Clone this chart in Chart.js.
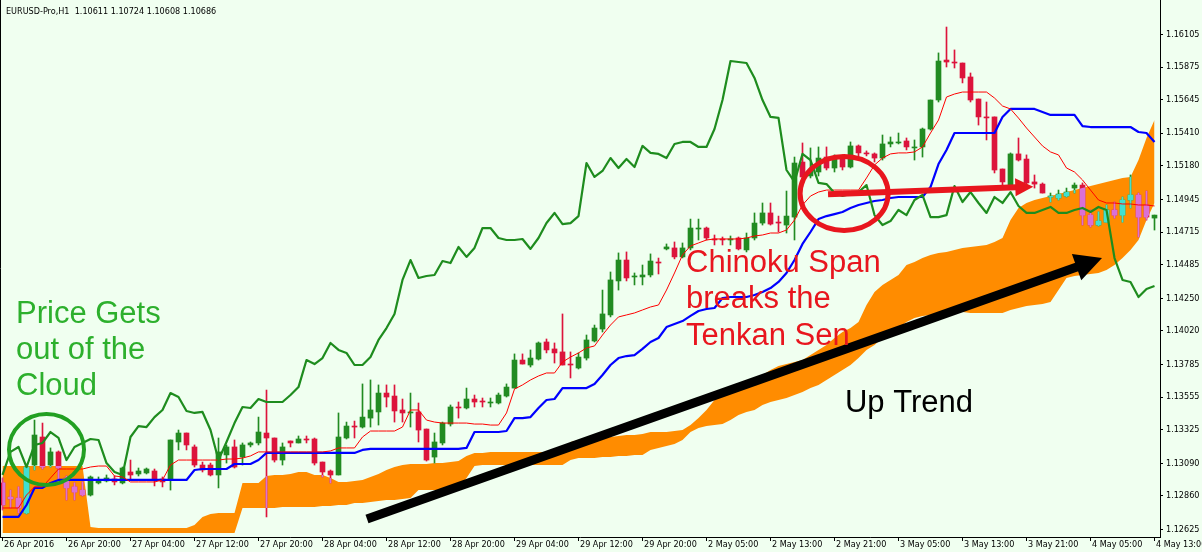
<!DOCTYPE html>
<html><head><meta charset="utf-8">
<script src="https://cdn.jsdelivr.net/npm/chart.js@4.4.1/dist/chart.umd.min.js"></script>
<style>html,body{margin:0;padding:0;background:#F0FFF0;overflow:hidden}canvas{display:block}</style>
</head><body>
<canvas id="c" width="1202" height="552" style="width:1202px;height:552px"></canvas>
<script>
const titleText = 'EURUSD-Pro,H1  1.10611 1.10724 1.10608 1.10686';
const xTickLabels = ['26 Apr 2016','26 Apr 20:00','27 Apr 04:00','27 Apr 12:00','27 Apr 20:00','28 Apr 04:00','28 Apr 12:00','28 Apr 20:00','29 Apr 04:00','29 Apr 12:00','29 Apr 20:00','2 May 05:00','2 May 13:00','2 May 21:00','3 May 05:00','3 May 13:00','3 May 21:00','4 May 05:00','4 May 13:00'];
const yTickValues = [1.16105,1.15875,1.15645,1.15410,1.15180,1.14945,1.14715,1.14485,1.14250,1.14020,1.13785,1.13555,1.13325,1.13090,1.12860,1.12625];

const opens = [1.12951,1.12852,1.12845,1.12740,1.13077,1.13274,1.13077,1.13169,1.12986,1.12923,
1.12901,1.12866,1.12951,1.12965,1.12979,1.12951,1.13028,1.13014,1.13021,1.13035,
1.12979,1.12972,1.13239,1.13302,1.13204,1.13077,1.13077,1.13007,1.13148,1.13204,
1.13133,1.13218,1.13232,1.13302,1.13267,1.13112,1.13246,1.13232,1.13260,1.13260,
1.13098,1.13035,1.13007,1.13267,1.13351,1.13344,1.13407,1.13450,1.13583,1.13562,
1.13464,1.13443,1.13450,1.13330,1.13133,1.13232,1.13365,1.13485,1.13478,1.13541,
1.13527,1.13513,1.13513,1.13562,1.13618,1.13815,1.13780,1.13822,1.13942,1.13893,
1.13872,1.13787,1.13759,1.13829,1.13949,1.14033,1.14132,1.14371,1.14518,1.14399,
1.14399,1.14413,1.14504,1.14596,1.14603,1.14540,1.14603,1.14736,1.14743,1.14666,
1.14666,1.14659,1.14673,1.14589,1.14673,1.14778,1.14849,1.14785,1.14764,1.14820,
1.15207,1.15109,1.15137,1.15242,1.15165,1.15228,1.15172,1.15320,1.15271,1.15264,
1.15235,1.15334,1.15341,1.15355,1.15306,1.15313,1.15439,1.15643,1.15924,1.15910,
1.15903,1.15805,1.15650,1.15524,1.15524,1.15158,1.15045,1.15264,1.15228,1.15067,
1.15052,1.14961,1.14954,1.14968,1.15024,1.15045,1.14834,1.14764,1.14785,1.14870,
1.14834,1.14940,1.14975,1.14905,1.14813];
const highs = [1.12986,1.12901,1.12923,1.13077,1.13393,1.13372,1.13197,1.13176,1.13000,1.12951,
1.12958,1.13000,1.12993,1.13007,1.13000,1.13063,1.13112,1.13056,1.13056,1.13049,
1.12993,1.13253,1.13323,1.13302,1.13218,1.13098,1.13091,1.13267,1.13218,1.13253,
1.13232,1.13239,1.13414,1.13604,1.13267,1.13232,1.13246,1.13281,1.13281,1.13267,
1.13098,1.13042,1.13443,1.13379,1.13386,1.13647,1.13675,1.13640,1.13640,1.13640,
1.13541,1.13583,1.13513,1.13330,1.13302,1.13379,1.13499,1.13520,1.13618,1.13569,
1.13548,1.13548,1.13583,1.13647,1.13858,1.13858,1.13886,1.13942,1.13963,1.13935,
1.14139,1.13872,1.13865,1.13991,1.14061,1.14307,1.14434,1.14568,1.14575,1.14427,
1.14483,1.14561,1.14532,1.14631,1.14645,1.14638,1.14806,1.14806,1.14750,1.14694,
1.14680,1.14687,1.14680,1.14708,1.14849,1.14919,1.14919,1.14827,1.15003,1.15242,
1.15341,1.15306,1.15313,1.15313,1.15257,1.15257,1.15348,1.15327,1.15285,1.15271,
1.15397,1.15383,1.15411,1.15376,1.15362,1.15446,1.15643,1.15974,1.16156,1.15995,
1.15903,1.15833,1.15650,1.15629,1.15524,1.15158,1.15271,1.15376,1.15257,1.15116,
1.15060,1.14989,1.15010,1.15024,1.15060,1.15060,1.14870,1.14856,1.14905,1.14926,
1.14961,1.15116,1.14989,1.15003,1.14834];
const lows = [1.12761,1.12775,1.12740,1.12733,1.13042,1.13049,1.13063,1.12958,1.12831,1.12831,
1.12859,1.12859,1.12944,1.12958,1.12937,1.12944,1.12972,1.13000,1.13014,1.12930,
1.12923,1.12901,1.13183,1.13183,1.13063,1.13028,1.13000,1.12916,1.13091,1.13056,
1.13077,1.13204,1.13218,1.12712,1.13098,1.13077,1.13204,1.13232,1.13232,1.13077,
1.12993,1.12951,1.13007,1.13260,1.13267,1.13337,1.13344,1.13358,1.13485,1.13379,
1.13379,1.13344,1.13239,1.13105,1.13091,1.13218,1.13351,1.13407,1.13471,1.13485,
1.13485,1.13485,1.13506,1.13555,1.13618,1.13787,1.13766,1.13815,1.13865,1.13794,
1.13780,1.13689,1.13752,1.13815,1.13942,1.14012,1.14118,1.14307,1.14371,1.14343,
1.14343,1.14399,1.14420,1.14589,1.14526,1.14533,1.14589,1.14659,1.14659,1.14624,
1.14624,1.14624,1.14589,1.14575,1.14659,1.14764,1.14764,1.14715,1.14708,1.14659,
1.15031,1.15095,1.15109,1.15151,1.15137,1.15151,1.15165,1.15235,1.15250,1.15207,
1.15221,1.15313,1.15334,1.15292,1.15221,1.15242,1.15432,1.15629,1.15875,1.15868,
1.15763,1.15629,1.15467,1.15362,1.15130,1.15031,1.15031,1.15214,1.15045,1.15024,
1.14989,1.14926,1.14940,1.14961,1.14989,1.14764,1.14750,1.14757,1.14785,1.14813,
1.14785,1.14884,1.14680,1.14799,1.14729];
const closes = [1.12796,1.12838,1.12775,1.13063,1.13288,1.13063,1.13169,1.13056,1.12916,1.12887,
1.12866,1.12993,1.12972,1.12986,1.12958,1.13056,1.13007,1.13035,1.13049,1.12972,
1.12958,1.13253,1.13302,1.13218,1.13077,1.13042,1.13007,1.13169,1.13204,1.13063,
1.13218,1.13232,1.13309,1.13267,1.13112,1.13204,1.13232,1.13260,1.13253,1.13091,
1.13028,1.13007,1.13274,1.13351,1.13344,1.13414,1.13464,1.13583,1.13555,1.13457,
1.13443,1.13450,1.13323,1.13112,1.13239,1.13372,1.13485,1.13478,1.13541,1.13520,
1.13520,1.13520,1.13569,1.13625,1.13815,1.13787,1.13829,1.13935,1.13886,1.13865,
1.13780,1.13780,1.13836,1.13956,1.14040,1.14139,1.14378,1.14518,1.14392,1.14406,
1.14413,1.14511,1.14497,1.14610,1.14540,1.14603,1.14743,1.14743,1.14673,1.14659,
1.14659,1.14666,1.14596,1.14673,1.14778,1.14849,1.14771,1.14778,1.14827,1.15200,
1.15102,1.15144,1.15235,1.15165,1.15228,1.15172,1.15320,1.15271,1.15264,1.15235,
1.15334,1.15348,1.15348,1.15313,1.15313,1.15439,1.15643,1.15917,1.15910,1.15903,
1.15798,1.15643,1.15524,1.15517,1.15151,1.15067,1.15264,1.15221,1.15060,1.15052,
1.14989,1.14968,1.14982,1.14996,1.15045,1.14834,1.14764,1.14792,1.14870,1.14834,
1.14940,1.14975,1.14820,1.14820,1.14834];

const tenkan = [1.12775,1.12775,1.12775,1.12866,1.12923,1.12923,1.12986,1.13049,1.13049,1.13049,
1.13049,1.13063,1.13070,1.13070,1.13000,1.12993,1.12958,1.12958,1.12958,1.12958,
1.12972,1.13077,1.13112,1.13112,1.13112,1.13112,1.13112,1.13112,1.13119,1.13119,
1.13126,1.13141,1.13169,1.13169,1.13169,1.13169,1.13169,1.13169,1.13169,1.13169,
1.13169,1.13176,1.13197,1.13197,1.13197,1.13274,1.13316,1.13316,1.13316,1.13316,
1.13344,1.13464,1.13464,1.13393,1.13379,1.13372,1.13372,1.13372,1.13372,1.13365,
1.13365,1.13358,1.13358,1.13443,1.13611,1.13640,1.13675,1.13703,1.13724,1.13724,
1.13801,1.13836,1.13865,1.13900,1.13914,1.13991,1.14061,1.14118,1.14132,1.14146,
1.14167,1.14188,1.14202,1.14307,1.14427,1.14554,1.14617,1.14638,1.14659,1.14666,
1.14666,1.14666,1.14666,1.14673,1.14687,1.14694,1.14708,1.14708,1.14729,1.14799,
1.14905,1.14968,1.14996,1.15010,1.15010,1.15010,1.15010,1.15010,1.15095,1.15186,
1.15235,1.15264,1.15271,1.15271,1.15278,1.15313,1.15411,1.15502,1.15664,1.15685,
1.15699,1.15699,1.15699,1.15699,1.15657,1.15601,1.15580,1.15516,1.15446,1.15383,
1.15320,1.15278,1.15257,1.15165,1.15137,1.15081,1.15010,1.14940,1.14919,1.14919,
1.14912,1.14912,1.14905,1.14905,1.14898];
const kijun = [1.12712,1.12712,1.12712,1.12796,1.12916,1.12916,1.12951,1.12972,1.12972,1.12972,
1.12972,1.12972,1.12972,1.12972,1.12972,1.12972,1.12972,1.12972,1.12972,1.12972,
1.12972,1.12972,1.12972,1.12972,1.13042,1.13049,1.13049,1.13049,1.13049,1.13084,
1.13084,1.13084,1.13112,1.13162,1.13162,1.13162,1.13162,1.13162,1.13162,1.13162,
1.13162,1.13162,1.13162,1.13162,1.13162,1.13183,1.13190,1.13190,1.13190,1.13190,
1.13190,1.13190,1.13190,1.13190,1.13190,1.13190,1.13190,1.13190,1.13197,1.13309,
1.13309,1.13309,1.13309,1.13316,1.13407,1.13407,1.13414,1.13478,1.13534,1.13541,
1.13618,1.13618,1.13618,1.13618,1.13647,1.13710,1.13780,1.13829,1.13843,1.13850,
1.13893,1.13942,1.13970,1.14047,1.14068,1.14089,1.14125,1.14160,1.14174,1.14181,
1.14251,1.14258,1.14258,1.14258,1.14272,1.14293,1.14321,1.14364,1.14427,1.14518,
1.14631,1.14715,1.14806,1.14827,1.14841,1.14856,1.14884,1.14905,1.14919,1.14933,
1.14940,1.14954,1.14961,1.14961,1.14961,1.14961,1.15031,1.15193,1.15292,1.15411,
1.15411,1.15411,1.15411,1.15411,1.15411,1.15523,1.15580,1.15580,1.15580,1.15580,
1.15559,1.15538,1.15538,1.15538,1.15538,1.15460,1.15453,1.15453,1.15453,1.15453,
1.15453,1.15453,1.15418,1.15411,1.15348];
const senkouA = [1.13070,1.13070,1.13070,1.13070,1.13070,1.13070,1.13070,1.13070,1.13070,1.13070,
1.13070,1.12641,1.12634,1.12634,1.12634,1.12634,1.12634,1.12634,1.12634,1.12634,
1.12634,1.12634,1.12634,1.12634,1.12655,1.12712,1.12733,1.12740,1.12740,1.12740,
1.12951,1.12951,1.12951,1.13000,1.13007,1.13007,1.13014,1.13028,1.13028,1.13007,
1.13007,1.12986,1.12958,1.12958,1.12965,1.12972,1.12993,1.13014,1.13042,1.13063,
1.13077,1.13084,1.13084,1.13084,1.13091,1.13091,1.13098,1.13105,1.13141,1.13162,
1.13162,1.13169,1.13169,1.13169,1.13169,1.13169,1.13169,1.13169,1.13169,1.13169,
1.13169,1.13239,1.13253,1.13253,1.13260,1.13267,1.13274,1.13281,1.13288,1.13288,
1.13295,1.13309,1.13309,1.13309,1.13316,1.13323,1.13358,1.13407,1.13464,1.13534,
1.13569,1.13604,1.13632,1.13640,1.13654,1.13710,1.13745,1.13773,1.13787,1.13801,
1.13815,1.13850,1.13886,1.13921,1.13970,1.14012,1.14040,1.14082,1.14202,1.14293,
1.14343,1.14378,1.14413,1.14483,1.14504,1.14532,1.14554,1.14568,1.14575,1.14589,
1.14603,1.14610,1.14617,1.14624,1.14645,1.14673,1.14799,1.14884,1.14919,1.14940,
1.14954,1.14968,1.14982,1.14996,1.15010,1.15024,1.15038,1.15052,1.15067,1.15081,
1.15095,1.15102,1.15221,1.15376,1.15502];
const senkouB = [1.12599,1.12599,1.12599,1.12599,1.12599,1.12599,1.12599,1.12599,1.12599,1.12599,
1.12599,1.12599,1.12599,1.12599,1.12599,1.12599,1.12599,1.12599,1.12599,1.12599,
1.12599,1.12599,1.12599,1.12599,1.12599,1.12599,1.12599,1.12599,1.12599,1.12599,
1.12775,1.12775,1.12775,1.12775,1.12775,1.12782,1.12782,1.12782,1.12782,1.12782,
1.12789,1.12789,1.12796,1.12796,1.12810,1.12810,1.12817,1.12824,1.12831,1.12831,
1.12838,1.12845,1.12901,1.12901,1.12901,1.12901,1.12908,1.12916,1.12986,1.13070,
1.13077,1.13077,1.13077,1.13077,1.13077,1.13077,1.13077,1.13077,1.13077,1.13077,
1.13077,1.13112,1.13126,1.13126,1.13126,1.13133,1.13133,1.13141,1.13141,1.13148,
1.13148,1.13183,1.13197,1.13211,1.13225,1.13253,1.13309,1.13337,1.13351,1.13358,
1.13365,1.13393,1.13428,1.13450,1.13464,1.13499,1.13520,1.13534,1.13548,1.13569,
1.13590,1.13618,1.13640,1.13675,1.13710,1.13745,1.13780,1.13829,1.13886,1.13921,
1.13970,1.14012,1.14040,1.14082,1.14111,1.14125,1.14132,1.14146,1.14153,1.14153,
1.14153,1.14146,1.14146,1.14146,1.14146,1.14146,1.14167,1.14181,1.14195,1.14202,
1.14209,1.14223,1.14307,1.14392,1.14406,1.14413,1.14420,1.14427,1.14448,1.14483,
1.14532,1.14589,1.14659,1.14799,1.14919];
// Chikou span = close shifted back 26 bars; these are the later closes that lie beyond the visible bars
const chikouTail = [1.15038,1.14926,1.14996,1.14919,1.14849,1.14961,1.14919,1.14996,1.14898,1.14849,
1.14849,1.14870,1.14891,1.14849,1.14849,1.14870,1.14884,1.14856,1.14891,1.14870,
1.14532,1.14378,1.14364,1.14258,1.14314,1.14335];
const chikou = closes.slice(26).concat(chikouTail);

const BG = '#F0FFF0', BULL = '#228B22', BEAR = '#DC143C', BULL_IN = '#40E0D0', BEAR_IN = '#DA70D6';
const AXIS_FONT = "'DejaVu Sans Condensed','DejaVu Sans',sans-serif";
const NOTE_FONT = "'Liberation Sans',Arial,sans-serif";

const idx = closes.map((_, i) => i);
const isBull = idx.map(i => closes[i] >= opens[i]);
const wickData = idx.map(i => ({x: i, y: [lows[i], highs[i]]}));
const bodyData = idx.map(i => ({x: i, y: [opens[i], closes[i]]}));
const series = arr => arr.map((v, i) => ({x: i, y: v}));

const notes = {
  greenCircle: {bar: 5.5, price: 1.13186, rx: 37.5, ry: 35.5, width: 4, color: '#22A022'},
  greenText: {bar: 1.6875, color: '#2DB02D', size: 31, lines: [['Price Gets', 1.14075], ['out of the', 1.13822], ['Cloud', 1.13569]]},
  redText: {bar: 85.44, color: '#E8161E', size: 31, lines: [['Chinoku Span', 1.14434], ['breaks the', 1.14181], ['Tenkan Sen', 1.13921]]},
  redEllipse: {bar: 105.2, price: 1.14986, rx: 44, ry: 37, width: 5, color: '#E8161E'},
  redArrow: {from: [103.19, 1.14981], to: [128.85, 1.15034], width: 6, head: 18, half: 9, color: '#E8161E'},
  blackArrow: {from: [45.5625, 1.12697], to: [137.44, 1.14532], width: 9, head: 27, half: 14, color: '#000000'},
  upTrend: {bar: 105.31, price: 1.13450, text: 'Up Trend', size: 31, color: '#000000'}
};

function isAlt(chart, index) { return chart.data.datasets[index] && chart.data.datasets[index].inCloud; }

const cloudClip = {
  id: 'cloudClip',
  beforeDatasetDraw(chart, args) {
    if (!isAlt(chart, args.index)) return;
    const {x, y} = chart.scales; const ctx = chart.ctx;
    ctx.save(); ctx.beginPath();
    idx.forEach(i => { const px = x.getPixelForValue(i), py = y.getPixelForValue(senkouA[i]); i ? ctx.lineTo(px, py) : ctx.moveTo(px, py); });
    for (let i = idx.length - 1; i >= 0; i--) ctx.lineTo(x.getPixelForValue(i), y.getPixelForValue(senkouB[i]));
    ctx.closePath(); ctx.clip();
  },
  afterDatasetDraw(chart, args) { if (isAlt(chart, args.index)) chart.ctx.restore(); }
};

function drawArrow(ctx, x1, y1, x2, y2, w, head, half, color) {
  const a = Math.atan2(y2 - y1, x2 - x1), c = Math.cos(a), s = Math.sin(a);
  const bx = x2 - head * c, by = y2 - head * s;
  ctx.strokeStyle = color; ctx.fillStyle = color; ctx.lineWidth = w; ctx.lineCap = 'butt';
  ctx.beginPath(); ctx.moveTo(x1, y1); ctx.lineTo(bx + c, by + s); ctx.stroke();
  ctx.beginPath(); ctx.moveTo(x2, y2); ctx.lineTo(bx + half * s, by - half * c); ctx.lineTo(bx - half * s, by + half * c); ctx.closePath(); ctx.fill();
}

const overlay = {
  id: 'overlay',
  beforeDraw(chart) { const ctx = chart.ctx; ctx.save(); ctx.fillStyle = BG; ctx.fillRect(0, 0, chart.width, chart.height); ctx.restore(); },
  afterDraw(chart) {
    const ctx = chart.ctx, xs = chart.scales.x, ys = chart.scales.y, area = chart.chartArea;
    const X = b => xs.getPixelForValue(b), Y = p => ys.getPixelForValue(p);
    ctx.save();
    ctx.strokeStyle = '#000'; ctx.lineWidth = 1; ctx.beginPath(); ctx.moveTo(0.5, 0); ctx.lineTo(0.5, area.bottom); ctx.stroke();
    ctx.fillStyle = '#000'; ctx.font = '9px ' + AXIS_FONT; ctx.textAlign = 'left'; ctx.textBaseline = 'alphabetic';
    ctx.fillText(titleText, 6, 13.5);
    xTickLabels.forEach((t, k) => ctx.fillText(t, Math.round(X(k * 8)) + 1, area.bottom + 9.5));
    ctx.save(); ctx.beginPath(); ctx.rect(area.left, area.top, area.right - area.left, area.bottom - area.top); ctx.clip();
    const g = notes.greenCircle;
    ctx.strokeStyle = g.color; ctx.lineWidth = g.width; ctx.beginPath(); ctx.ellipse(X(g.bar), Y(g.price), g.rx, g.ry, 0, 0, Math.PI * 2); ctx.stroke();
    const r = notes.redEllipse;
    ctx.strokeStyle = r.color; ctx.lineWidth = r.width; ctx.beginPath(); ctx.ellipse(X(r.bar), Y(r.price), r.rx, r.ry, 0, 0, Math.PI * 2); ctx.stroke();
    [notes.redArrow, notes.blackArrow].forEach(a => drawArrow(ctx, X(a.from[0]), Y(a.from[1]), X(a.to[0]), Y(a.to[1]), a.width, a.head, a.half, a.color));
    [notes.greenText, notes.redText].forEach(n => {
      ctx.fillStyle = n.color; ctx.font = n.size + 'px ' + NOTE_FONT; ctx.textBaseline = 'alphabetic';
      n.lines.forEach(([t, p]) => ctx.fillText(t, X(n.bar), Y(p)));
    });
    const u = notes.upTrend;
    ctx.fillStyle = u.color; ctx.font = u.size + 'px ' + NOTE_FONT; ctx.fillText(u.text, X(u.bar), Y(u.price));
    ctx.restore();
    ctx.restore();
  }
};

const barBase = {type: 'bar', grouped: false, borderWidth: 0, borderSkipped: false, minBarLength: 1};
new Chart(document.getElementById('c'), {
  type: 'bar',
  data: {
    datasets: [
      {type: 'line', label: 'Senkou B', data: series(senkouB), borderWidth: 0, pointRadius: 0, fill: false, order: 20, tension: 0},
      {type: 'line', label: 'Senkou A', data: series(senkouA), borderWidth: 0, pointRadius: 0, fill: '-1', backgroundColor: '#FF8C00', order: 19, tension: 0},
      {...barBase, label: 'wicks', data: wickData, barThickness: 1, backgroundColor: isBull.map(b => b ? BULL : BEAR), order: 15},
      {...barBase, label: 'bodies', data: bodyData, barThickness: 5, backgroundColor: isBull.map(b => b ? BULL : BEAR), order: 14},
      {...barBase, label: 'wicks in cloud', inCloud: true, data: wickData, barThickness: 1, backgroundColor: isBull.map(b => b ? BULL_IN : BEAR_IN), order: 13},
      {...barBase, label: 'bodies in cloud', inCloud: true, data: bodyData, barThickness: 5, backgroundColor: isBull.map(b => b ? BULL_IN : BEAR_IN), order: 12},
      {type: 'line', label: 'Kijun-sen', data: series(kijun), borderColor: '#0000FF', borderWidth: 2.2, pointRadius: 0, fill: false, order: 5, tension: 0, borderJoinStyle: 'round'},
      {type: 'line', label: 'Tenkan-sen', data: series(tenkan), borderColor: '#FF0000', borderWidth: 1, pointRadius: 0, fill: false, order: 4, tension: 0},
      {type: 'line', label: 'Chikou Span', data: series(chikou), borderColor: '#1E8C1E', borderWidth: 2.2, pointRadius: 0, fill: false, order: 3, tension: 0, borderJoinStyle: 'round'}
    ]
  },
  options: {
    responsive: false, animation: false, devicePixelRatio: 1,
    layout: {padding: 0},
    plugins: {legend: {display: false}, tooltip: {enabled: false}, title: {display: false}},
    scales: {
      x: {
        type: 'linear', min: -0.3125, max: 144.6875, offset: false, bounds: 'data',
        grid: {offset: false, drawOnChartArea: false, drawTicks: true, tickLength: 4, color: '#000'},
        border: {display: true, color: '#000', width: 1},
        ticks: {display: false},
        afterBuildTicks: s => { s.ticks = xTickLabels.map((_, k) => ({value: k * 8})); },
        afterFit: s => { s.height = 15; s.paddingLeft = 0; s.paddingRight = 0; }
      },
      y: {
        type: 'linear', position: 'right', min: 1.12571, max: 1.16346, bounds: 'data',
        grid: {drawOnChartArea: false, drawTicks: true, tickLength: 3, color: '#000'},
        border: {display: true, color: '#000', width: 1},
        ticks: {padding: 3, color: '#000', autoSkip: false, font: {family: AXIS_FONT, size: 9}, callback: v => Number(v).toFixed(5)},
        afterBuildTicks: s => { s.ticks = yTickValues.map(v => ({value: v})); },
        afterFit: s => { s.width = 42; s.paddingTop = 0; s.paddingBottom = 0; }
      }
    }
  },
  plugins: [cloudClip, overlay]
});
</script>
</body></html>
